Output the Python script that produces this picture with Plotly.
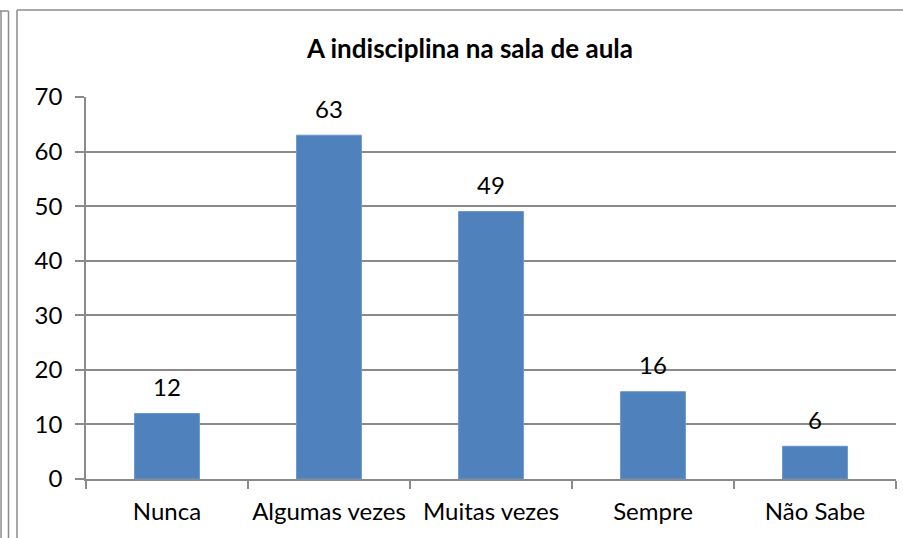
import plotly.graph_objects as go

categories = ["Nunca", "Algumas vezes", "Muitas vezes", "Sempre", "Não Sabe"]
values = [12, 63, 49, 16, 6]
y_ticks = [0, 10, 20, 30, 40, 50, 60, 70]
title_text = "A indisciplina na sala de aula"

W, H = 903, 538
L, R, T, B = 86, 7, 97, 59
PW, PH = W - L - R, H - T - B

def px(x):
    return (x - L) / PW

def py(y):
    return (H - B - y) / PH

FONT = "Lato"
FS = 24
GRID = "#8a8a8a"

fig = go.Figure()
fig.add_trace(go.Bar(
    x=categories, y=values,
    marker=dict(color="#4f81bd", line=dict(color="#6b95c9", width=1)),
    width=0.4,
    hoverinfo="x+y",
))

for c, v in zip(categories, values):
    fig.add_annotation(x=c, y=v, text=str(v), showarrow=False,
                       yanchor="middle", yshift=27,
                       font=dict(family=FONT, size=FS, color="#000"))

shapes = [
    dict(type="line", xref="paper", yref="paper", x0=px(17), x1=px(17), y0=py(10), y1=py(560),
         line=dict(color="#8c8c8c", width=1.5)),
    dict(type="line", xref="paper", yref="paper", x0=px(17), x1=px(920), y0=py(10), y1=py(10),
         line=dict(color="#8c8c8c", width=1.5)),
    dict(type="line", xref="paper", yref="paper", x0=px(1), x1=px(1), y0=py(11), y1=py(560),
         line=dict(color="#8c8c8c", width=1.5)),
    dict(type="line", xref="paper", yref="paper", x0=px(8.5), x1=px(8.5), y0=py(11), y1=py(560),
         line=dict(color="#8c8c8c", width=1.5)),
    dict(type="line", xref="paper", yref="paper", x0=px(0), x1=px(8.5), y0=py(11), y1=py(11),
         line=dict(color="#8c8c8c", width=1.5)),
]

fig.update_layout(
    width=W, height=H,
    margin=dict(l=L, r=R, t=T, b=B),
    paper_bgcolor="white", plot_bgcolor="white",
    showlegend=False,
    bargap=0.6,
    title=dict(text=f"<b>{title_text}</b>", x=470 / W, xanchor="center",
               y=1 - 49 / H, yanchor="middle",
               font=dict(family=FONT, size=26, color="#000")),
    font=dict(family=FONT, size=FS, color="#000"),
    xaxis=dict(
        type="category", categoryorder="array", categoryarray=categories,
        showline=True, linecolor=GRID, linewidth=1.5,
        ticks="outside", tickson="boundaries", ticklen=8, tickcolor=GRID, tickwidth=1.5,
        showgrid=False, tickfont=dict(family=FONT, size=FS, color="#000"),
        tickangle=0, automargin=False,
        ticklabelstandoff=10,
    ),
    yaxis=dict(
        range=[0, 70], tickvals=y_ticks,
        showline=True, linecolor=GRID, linewidth=1.5,
        ticks="outside", ticklen=9, tickcolor=GRID, tickwidth=1.5,
        showgrid=True, gridcolor=GRID, gridwidth=1.5,
        zeroline=False, automargin=False,
        tickfont=dict(family=FONT, size=FS, color="#000"),
        ticklabelstandoff=8,
    ),
    shapes=shapes,
)

fig.write_html("out.html", config={"displayModeBar": False},
               post_script="document.body.style.margin='0';document.body.style.overflow='hidden';")
